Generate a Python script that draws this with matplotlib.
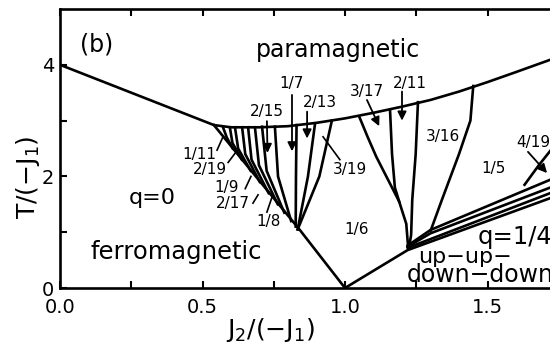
import matplotlib
matplotlib.use("Agg")
import matplotlib.pyplot as plt

# phase boundaries, x = J2/(-J1), y = T/(-J1)
para_x = [0.0, 0.54, 0.60, 0.70, 0.80, 0.90, 1.00, 1.10, 1.20, 1.30, 1.40, 1.50, 1.60, 1.72, 2.00]
para_T = [4.00, 2.92, 2.88, 2.88, 2.90, 2.96, 3.04, 3.14, 3.25, 3.37, 3.52, 3.69, 3.87, 4.09, 4.60]

ferro_x = [0.54, 0.70, 0.84, 1.00]
ferro_T = [2.92, 1.92, 1.05, 0.00]

uudd_x = [1.00, 1.22, 1.72, 2.00]
uudd_T = [0.00, 0.68, 1.61, 2.13]

# lines fanning out toward q=1/4
fan = [
    ([1.22, 1.72, 2.00], [0.72, 1.70, 2.25]),
    ([1.22, 1.30, 1.72, 2.00], [0.74, 0.98, 1.80, 2.38]),
    ([1.22, 1.30, 1.72, 2.00], [0.76, 1.04, 1.94, 2.55]),
]

# boundaries between the long-period phases (q < 1/6)
lamellae = [
    ([0.572, 0.585, 0.606], [2.88, 2.70, 2.50]),
    ([0.596, 0.605, 0.638], [2.88, 2.60, 2.30]),
    ([0.614, 0.625, 0.669], [2.88, 2.50, 2.10]),
    ([0.639, 0.650, 0.701], [2.88, 2.40, 1.90]),
    ([0.660, 0.672, 0.732], [2.88, 2.30, 1.70]),
    ([0.684, 0.698, 0.764], [2.88, 2.20, 1.50]),
    ([0.709, 0.725, 0.787], [2.89, 2.10, 1.35]),
    ([0.754, 0.765, 0.811], [2.89, 2.00, 1.20]),
    ([0.830, 0.828, 0.827], [2.92, 2.00, 1.10]),
    ([0.895, 0.870, 0.834], [2.95, 2.00, 1.05]),
    ([0.954, 0.910, 0.834], [3.00, 2.00, 1.05]),
]

# boundaries on the q > 1/6 side
right_lines = [
    ([1.050, 1.080, 1.110, 1.150, 1.190, 1.215, 1.222], [3.07, 2.70, 2.35, 1.95, 1.55, 1.15, 0.70]),
    ([1.158, 1.165, 1.175, 1.190], [3.19, 2.40, 1.80, 1.55]),
    ([1.256, 1.248, 1.236, 1.232, 1.225], [3.33, 2.40, 1.58, 0.95, 0.74]),
    ([1.450, 1.440, 1.400, 1.340, 1.300], [3.62, 3.00, 2.40, 1.58, 1.02]),
    ([1.630, 1.680, 1.750], [1.85, 2.20, 2.65]),
]

# phase labels: text, x, T
region_labels = [("1/6", 1.04, 1.04), ("3/16", 1.345, 2.71), ("1/5", 1.52, 2.15)]

# labels with a plain pointer line: text, label x, label T, line start, line end
pointer_labels = [
    ("1/11", 0.49, 2.39, (0.551, 2.47), (0.572, 2.71)),
    ("2/19", 0.525, 2.12, (0.590, 2.25), (0.615, 2.42)),
    ("1/9", 0.585, 1.80, (0.650, 1.78), (0.670, 2.00)),
    ("2/17", 0.605, 1.52, (0.677, 1.52), (0.695, 1.67)),
    ("1/8", 0.73, 1.20, (0.726, 1.36), (0.744, 1.63)),
    ("3/19", 1.018, 2.13, (0.982, 2.30), (0.923, 2.71)),
]

# labels with an arrow
arrow_labels = [
    ("2/15", 0.726, 3.16, (0.726, 2.99), (0.728, 2.42)),
    ("1/7", 0.814, 3.66, (0.814, 3.46), (0.814, 2.45)),
    ("2/13", 0.912, 3.32, (0.867, 3.16), (0.867, 2.68)),
    ("3/17", 1.077, 3.52, (1.077, 3.37), (1.120, 2.90)),
    ("2/11", 1.228, 3.66, (1.200, 3.52), (1.200, 3.00)),
    ("4/19", 1.66, 2.60, (1.642, 2.44), (1.709, 2.06)),
]

fig = plt.figure(figsize=(5.5, 3.47), dpi=100)
ax = fig.add_axes([60 / 550, 59 / 347, 570 / 550, 279 / 347])

lw = 1.9
ax.plot(para_x, para_T, color="k", lw=lw)
ax.plot(ferro_x, ferro_T, color="k", lw=lw)
ax.plot(uudd_x, uudd_T, color="k", lw=lw)
for xs, ts in fan + lamellae + right_lines:
    ax.plot(xs, ts, color="k", lw=lw)

small = 11
for txt, x, t in region_labels:
    ax.text(x, t, txt, fontsize=small, ha="center", va="center")
for txt, x, t, p0, p1 in pointer_labels:
    ax.text(x, t, txt, fontsize=small, ha="center", va="center")
    ax.plot([p0[0], p1[0]], [p0[1], p1[1]], color="k", lw=1.2)
for txt, x, t, p0, p1 in arrow_labels:
    ax.text(x, t, txt, fontsize=small, ha="center", va="center")
    ax.annotate("", xy=p1, xytext=p0,
                arrowprops=dict(arrowstyle="-|>", color="k", lw=1.3,
                                mutation_scale=13, shrinkA=0, shrinkB=0))

ax.text(0.13, 4.36, "(b)", fontsize=17, ha="center", va="center")
ax.text(0.975, 4.27, "paramagnetic", fontsize=17, ha="center", va="center")
ax.text(0.325, 1.62, "q=0", fontsize=16, ha="center", va="center")
ax.text(0.407, 0.65, "ferromagnetic", fontsize=17.5, ha="center", va="center")
ax.text(1.467, 0.92, "q=1/4", fontsize=17.5, ha="left", va="center")
ax.text(1.256, 0.56, "up\u2212up\u2212", fontsize=16, ha="left", va="center")
ax.text(1.218, 0.23, "down\u2212down", fontsize=17, ha="left", va="center")

ax.set_xlim(0, 2.0)
ax.set_ylim(0, 5)
ax.set_xticks([0.0, 0.5, 1.0, 1.5])
ax.set_xticklabels(["0.0", "0.5", "1.0", "1.5"])
ax.set_xticks([0.25, 0.75, 1.25, 1.75], minor=True)
ax.set_yticks([0, 2, 4])
ax.set_yticklabels(["0", "2", "4"])
ax.set_yticks([1, 3], minor=True)
ax.tick_params(which="both", direction="in", length=5, width=1.5,
               top=True, right=True, labelsize=14)
ax.tick_params(axis="x", pad=7)
ax.tick_params(axis="y", pad=4)
for sp in ax.spines.values():
    sp.set_linewidth(1.9)

ax.text(0.737, -0.75, "J$_2$/(\u2212J$_1$)", fontsize=18, ha="center", va="center",
        clip_on=False)
fig.text(28 / 550, 1 - 177 / 347, "T/(\u2212J$_1$)", fontsize=18, rotation=90,
         ha="center", va="center")

fig.savefig("out.png", dpi=100)
